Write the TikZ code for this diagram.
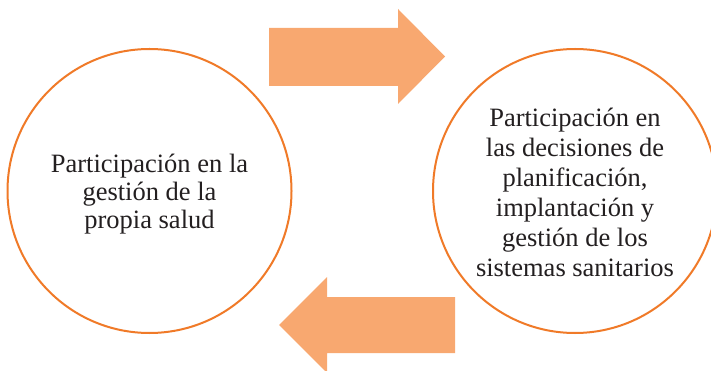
\documentclass[tikz,border=0pt]{standalone}
\usepackage{fontspec}
\setmainfont{Liberation Serif}
\definecolor{ringorange}{RGB}{240,122,40}
\definecolor{arrowfill}{RGB}{248,168,112}
\definecolor{textgray}{RGB}{35,31,32}
\begin{document}
\begin{tikzpicture}[x=1pt,y=-1pt,
  ring/.style={circle,draw=ringorange,line width=2pt,minimum size=284pt,inner sep=0pt},
  ringtext/.style={align=center,text=textgray,inner sep=0pt,font=\fontsize{26.5}{28}\selectfont},
  blockarrow/.style={fill=arrowfill,draw=none}]
\useasboundingbox (0,0) rectangle (711,371);
\fill[white] (0,0) rectangle (711,371);
\node[ring] (L) at (149.5,191) {};
\node[ring] (R) at (575,191) {};
\node[ringtext] (Lt) at ([yshift=-3pt]L.center) {Participación en la\\gestión de la\\propia salud};
\node[ringtext,font=\fontsize{26.5}{30}\selectfont] (Rt) at ([yshift=-1.5pt]R.center) {Participación en\\las decisiones de\\planificación,\\implantación y\\gestión de los\\sistemas sanitarios};
\path[blockarrow] (269,28) -- (398,28) -- (398,9) -- (445,56.5) -- (398,104) -- (398,86) -- (269,86) -- cycle;
\path[blockarrow] (455,297) -- (327,297) -- (327,277) -- (279,325) -- (327,373) -- (327,353) -- (455,353) -- cycle;
\end{tikzpicture}
\end{document}
